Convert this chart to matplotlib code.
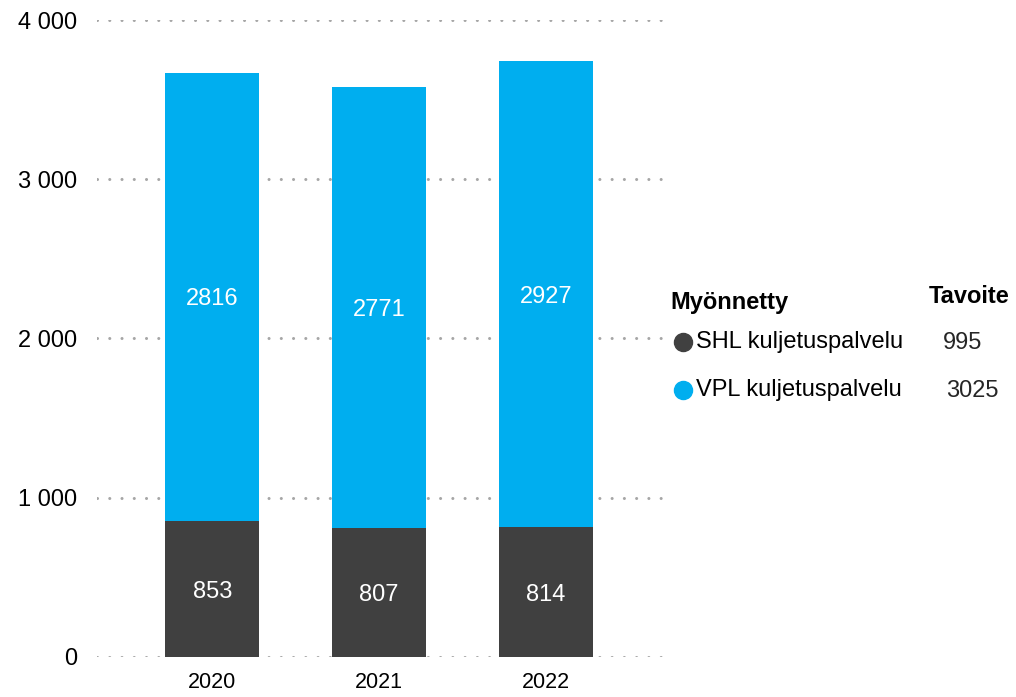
import matplotlib.pyplot as plt
import numpy as np

vuodet = ["2020", "2021", "2022"]
shl = [853, 807, 814]
vpl = [2816, 2771, 2927]
y_ticks = [0, 1000, 2000, 3000, 4000]
y_labels = ["0", "1 000", "2 000", "3 000", "4 000"]
sarjat = ["SHL kuljetuspalvelu", "VPL kuljetuspalvelu"]
tavoite = ["995", "3025"]

c_shl = "#404040"
c_vpl = "#00AEEF"

plt.rcParams['font.family'] = ['Liberation Sans', 'DejaVu Sans']

fig = plt.figure(figsize=(10.16, 6.97), dpi=100)
ax = fig.add_axes([0.0955, 0.0574, 0.557, 0.9139])

x = np.arange(len(vuodet))
leveys = 0.563
ax.bar(x, shl, leveys, color=c_shl, zorder=3)
ax.bar(x, vpl, leveys, bottom=shl, color=c_vpl, zorder=3)

for i in range(len(vuodet)):
    ax.text(x[i], shl[i] / 2, str(shl[i]), ha="center", va="center_baseline",
            color="white", fontsize=17, zorder=4)
    ax.text(x[i], shl[i] + vpl[i] / 2, str(vpl[i]), ha="center",
            va="center_baseline", color="white", fontsize=17, zorder=4)

ax.set_xlim(-0.69, 2.70)
ax.set_ylim(0, 4000)
ax.set_yticks(y_ticks)
ax.set_yticklabels(y_labels, fontsize=17)
ax.set_xticks(x)
ax.set_xticklabels(vuodet, fontsize=15.5)
ax.tick_params(axis="both", length=0)
ax.tick_params(axis="y", pad=14)
ax.tick_params(axis="x", pad=11)
for s in ax.spines.values():
    s.set_visible(False)
ax.yaxis.grid(True, color="#A6A6A6", linestyle=(0, (0.01, 4)), linewidth=2.2,
              dash_capstyle="round", zorder=0)
ax.set_axisbelow(True)

# legenda käsin
fig.text(670 / 1016, 1 - 303 / 697, "Myönnetty", fontsize=17, fontweight="bold",
         ha="left", va="center")
fig.text(969 / 1016, 1 - 297 / 697, "Tavoite", fontsize=17, fontweight="bold",
         ha="center", va="center")
rivit_y = [342, 390]
arvo_x = [963, 972]
for nimi, arvo, vari, ry, ax_ in zip(sarjat, tavoite, [c_shl, c_vpl], rivit_y, arvo_x):
    fig.add_artist(plt.Line2D([683 / 1016], [1 - ry / 697], marker="o",
                              markersize=13, color=vari, linestyle="none"))
    fig.text(696 / 1016, 1 - ry / 697, nimi, fontsize=17, ha="left", va="center")
    fig.text(ax_ / 1016, 1 - (ry + 1) / 697, arvo, fontsize=17, ha="center",
             va="center", color="#262626")

fig.savefig("out.png", dpi=100)
